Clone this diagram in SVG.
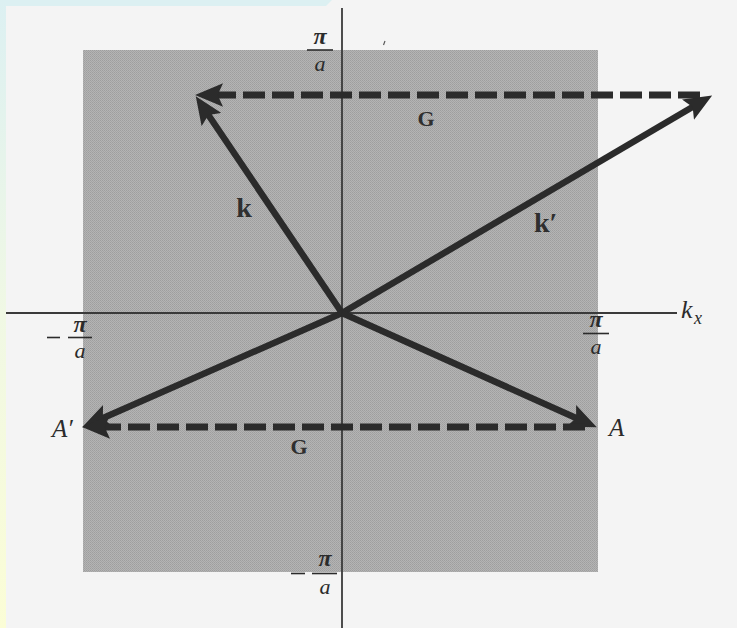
<svg xmlns="http://www.w3.org/2000/svg" width="737" height="628" viewBox="0 0 737 628">
<defs>
<linearGradient id="edge" x1="0" y1="0" x2="0" y2="1">
<stop offset="0" stop-color="#dcf0f2"/>
<stop offset="0.5" stop-color="#f0f8e4"/>
<stop offset="1" stop-color="#fbfdd6"/>
</linearGradient>
<pattern id="stip" width="2" height="2" patternUnits="userSpaceOnUse">
<rect width="2" height="2" fill="#b4b4b4"/>
<rect width="1" height="1" fill="#9e9e9e"/>
<rect x="1" y="1" width="1" height="1" fill="#a4a4a4"/>
</pattern>
<marker id="head" markerUnits="userSpaceOnUse" markerWidth="28" markerHeight="24" viewBox="0 0 26 22" refX="14" refY="11" orient="auto">
<path d="M0,0 L26,11 L0,22 L5,11 Z" fill="#2b2b2b"/>
</marker>
</defs>
<style>
.math{font-family:"Liberation Serif","DejaVu Serif",serif;font-style:italic;fill:#2b2b2b}
.pi{font-weight:bold}
.bold{font-family:"Liberation Serif","DejaVu Serif",serif;font-weight:bold;fill:#2f2f2f}
.frac{stroke:#2b2b2b;stroke-width:1.6}
.axis{stroke:#3a3a3a;stroke-width:1.8;fill:none}
.vec{stroke:#2b2b2b;stroke-width:6.5;fill:none;marker-end:url(#head)}
.dash{stroke:#2b2b2b;stroke-width:7;fill:none;stroke-dasharray:22 7;marker-end:url(#head)}
</style>
<rect width="737" height="628" fill="#f4f4f4"/>
<path d="M0,0 H332 L326,6 H0 Z" fill="#dcf0f2"/>
<rect x="0" y="0" width="6" height="628" fill="url(#edge)"/>

<g id="zone">
<rect x="83" y="50" width="515" height="522" fill="url(#stip)"/>
</g>

<g id="axes">
<line class="axis" x1="6" y1="313" x2="677" y2="313"/>
<line class="axis" x1="342" y1="8" x2="342" y2="628"/>
<path d="M385,41 L383.5,45" stroke="#555" stroke-width="1.2"/>
</g>

<g id="label-kx">
<text class="math" x="681" y="318" font-size="26">k</text>
<text class="math" x="694" y="324" font-size="18">x</text>
</g>

<g id="label-top">
<text class="math pi" x="320" y="44" font-size="24" text-anchor="middle">π</text>
<line class="frac" x1="307" y1="50" x2="333" y2="50"/>
<text class="math" x="320" y="71" font-size="22" text-anchor="middle">a</text>
</g>

<g id="label-left">
<line class="frac" x1="47" y1="337.5" x2="60" y2="337.5"/>
<text class="math pi" x="80" y="332" font-size="24" text-anchor="middle">π</text>
<line class="frac" x1="68" y1="337.5" x2="92" y2="337.5"/>
<text class="math" x="80" y="358" font-size="22" text-anchor="middle">a</text>
</g>

<g id="label-right">
<text class="math pi" x="596" y="327" font-size="24" text-anchor="middle">π</text>
<line class="frac" x1="583" y1="333.5" x2="609" y2="333.5"/>
<text class="math" x="596" y="354" font-size="22" text-anchor="middle">a</text>
</g>

<g id="label-bottom">
<line class="frac" x1="291" y1="573.5" x2="305" y2="573.5"/>
<text class="math pi" x="325" y="566" font-size="24" text-anchor="middle">π</text>
<line class="frac" x1="312" y1="573.5" x2="337" y2="573.5"/>
<text class="math" x="325" y="594" font-size="22" text-anchor="middle">a</text>
</g>

<g id="connectors">
<path class="vec" d="M342,313 L203,107"/>
<path class="vec" d="M342,313 L701,102"/>
<path class="vec" d="M342,313 L94,422"/>
<path class="vec" d="M342,313 L585,422"/>
<path class="dash" d="M700,95 L208,95"/>
<path class="dash" d="M585,427 L95,427"/>
</g>

<g id="label-k"><text class="bold" x="244" y="217" font-size="28" text-anchor="middle">k</text></g>
<g id="label-kprime"><text class="bold" x="534" y="232" font-size="28">k′</text></g>
<g id="label-G-top"><text class="bold" x="426" y="126" font-size="22" text-anchor="middle">G</text></g>
<g id="label-G-bottom"><text class="bold" x="299" y="454" font-size="22" text-anchor="middle">G</text></g>
<g id="label-A-prime"><text class="math" x="52" y="437" font-size="25">A′</text></g>
<g id="label-A"><text class="math" x="609" y="436" font-size="25">A</text></g>
</svg>
